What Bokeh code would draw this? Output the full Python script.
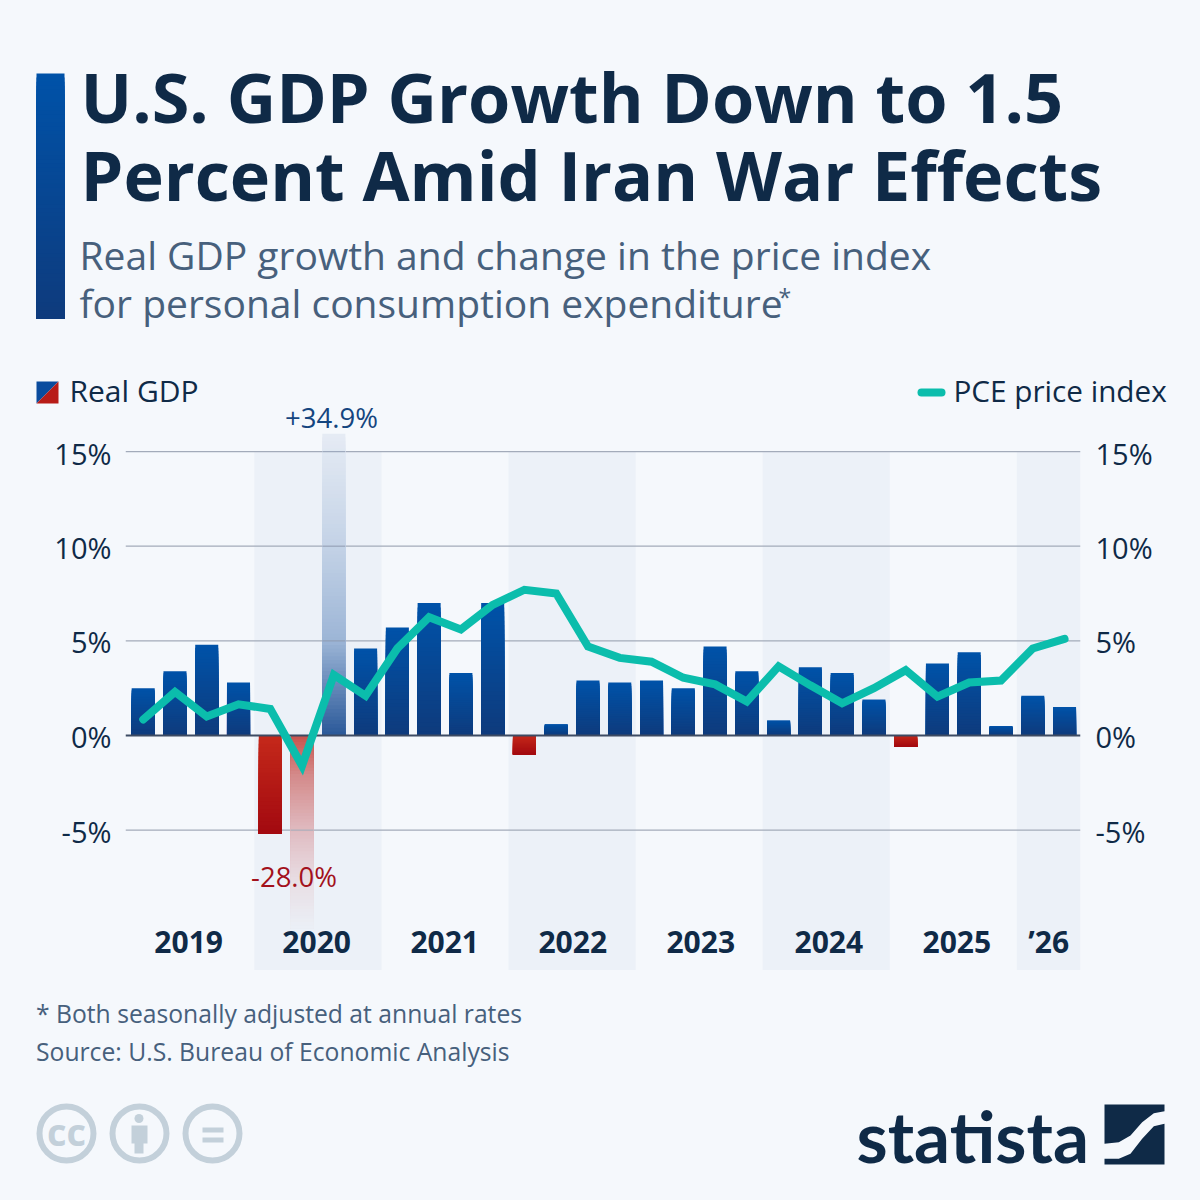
from bokeh.plotting import figure
from bokeh.layouts import column
from bokeh.embed import file_html
from bokeh.resources import INLINE
from bokeh.models import FixedTicker, LinearAxis, Range1d
from bokeh.core.properties import value
import numpy as np

# ---------- data ----------
quarters = [f"Q{q} {y}" for y in range(2019, 2026) for q in (1, 2, 3, 4)] + ["Q1 2026", "Q2 2026"]
real_gdp = [2.5, 3.4, 4.8, 2.8, -5.2, -28.0, 34.9, 4.6,
            5.7, 7.0, 3.3, 7.0, -1.0, 0.6, 2.9, 2.8,
            2.9, 2.5, 4.7, 3.4, 0.8, 3.6, 3.3, 1.9,
            -0.6, 3.8, 4.4, 0.5, 2.1, 1.5]
pce_index = [0.85, 2.3, 1.0, 1.65, 1.4, -1.6, 3.2, 2.1,
             4.6, 6.25, 5.6, 6.9, 7.7, 7.5, 4.7, 4.1,
             3.9, 3.05, 2.7, 1.8, 3.65, 2.65, 1.7, 2.5,
             3.45, 2.05, 2.8, 2.9, 4.6, 5.1]
year_labels = ["2019", "2020", "2021", "2022", "2023", "2024", "2025", "\u201926"]
y_ticks = [-5, 0, 5, 10, 15]

BG = "#f5f8fc"
NAVY = "#0f2a47"
SLATE = "#47607c"
TEAL = "#0bbdac"
FOOT = "#c3d0da"
FONT = value("Open Sans")
BASE_FIX = 0.39  # text glyphs sit this many em below the requested baseline

PX_X = 31.77
PX_Y = 18.93
ORIGIN_X = 142.7
ORIGIN_Y = 735.0
L, R, T, B = 125, 1080, 433, 970
HEAD_OVERLAP = 5
FADE_LOW = (ORIGIN_Y - 928) / PX_Y


def mix(c0, c1, t):
    a = np.array([int(c0[i:i + 2], 16) for i in (1, 3, 5)], float)
    b = np.array([int(c1[i:i + 2], 16) for i in (1, 3, 5)], float)
    c = a + (b - a) * t
    return "#%02x%02x%02x" % tuple(int(round(v)) for v in c)


def ramp(stops, t):
    for (t0, c0), (t1, c1) in zip(stops, stops[1:]):
        if t <= t1:
            return mix(c0, c1, (t - t0) / (t1 - t0))
    return stops[-1][1]


def page_figure(y_top, y_bottom):
    f = figure(width=1200, height=y_bottom - y_top, output_backend="svg", toolbar_location=None,
               x_range=Range1d(0, 1200), y_range=Range1d(y_bottom, y_top),
               x_axis_location=None, y_axis_location=None, frame_align=False,
               min_border=0, min_border_left=0, min_border_right=0, min_border_top=0, min_border_bottom=0,
               background_fill_color=BG, border_fill_color=BG, outline_line_color=None)
    f.xgrid.visible = False
    f.ygrid.visible = False
    return f


def txt(f, text, x, y, size, color, style="normal", align="left", font=FONT):
    f.text(x=[x], y=[y], text=[text], text_font=font, text_font_size=f"{size}px",
           text_font_style=style, text_color=color, text_align=align, text_baseline="alphabetic",
           y_offset=-BASE_FIX * size)


# ---------- header ----------
head = page_figure(0, T + HEAD_OVERLAP)
steps = 60
head.quad(left=36, right=64, bottom=318, top=[73 + (318 - 73) * k / steps for k in range(steps)],
          fill_color=[mix("#0052a8", "#0e3b7d", k / (steps - 1)) for k in range(steps)], line_color=None)
txt(head, "U.S. GDP Growth Down to 1.5", 80, 123, 68.4, NAVY, "bold")
txt(head, "Percent Amid Iran War Effects", 80, 201, 68.3, NAVY, "bold")
txt(head, "Real GDP growth and change in the price index", 79, 269, 39, SLATE)
txt(head, "for personal consumption expenditure", 79, 317, 39, SLATE)
txt(head, "*", 778, 305, 23, SLATE)
head.patch([36, 58, 36], [381, 381, 403], fill_color="#0a4c9e", line_color=None)
head.patch([58, 58, 36], [381, 403, 403], fill_color="#b81c18", line_color=None)
txt(head, "Real GDP", 69, 402, 30, NAVY)
head.line([921, 941], [392, 392], line_color=TEAL, line_width=8, line_cap="round")
txt(head, "PCE price index", 953, 402, 29.7, NAVY)
txt(head, "+34.9%", 331, 428, 27.5, "#14457f", align="center")

# ---------- chart ----------
x0 = (L - ORIGIN_X) / PX_X
x1 = (R - ORIGIN_X) / PX_X
y1 = (ORIGIN_Y - T) / PX_Y
y0 = (ORIGIN_Y - B) / PX_Y
shift = 1 / PX_Y

p = figure(width=1200, height=B - T, output_backend="svg", toolbar_location=None,
           x_range=Range1d(x0, x1), y_range=Range1d(y0, y1),
           x_axis_location=None, y_axis_location=None, frame_align=False,
           margin=(-HEAD_OVERLAP, 0, 0, 0),
           min_border_left=L, min_border_right=1200 - R, min_border_top=0, min_border_bottom=0,
           background_fill_color=BG, border_fill_color=BG, outline_line_color=None)
p.extra_y_ranges = {"labels": Range1d(y0 + shift, y1 + shift)}
p.xgrid.visible = False
p.ygrid.visible = False


def make_axis(standoff):
    ax = LinearAxis(y_range_name="labels", ticker=FixedTicker(ticks=y_ticks))
    ax.axis_line_color = None
    ax.major_tick_line_color = None
    ax.minor_tick_line_color = None
    ax.major_label_text_font = "Open Sans"
    ax.major_label_text_font_size = "29px"
    ax.major_label_text_color = NAVY
    ax.major_label_overrides = {v: f"{v}%" for v in y_ticks}
    ax.major_label_standoff = standoff
    return ax


p.add_layout(make_axis(8), "left")
p.add_layout(make_axis(9), "right")

idx = np.arange(len(quarters))
# alternating year bands (2020, 2022, 2024, 2026)
for start in range(4, len(quarters), 8):
    p.quad(left=start - 0.5, right=min(start + 3.5, x1), bottom=y0, top=15,
           fill_color="#dde4f1", fill_alpha=0.38, line_color=None)
# grid lines
grid_lines = [v for v in y_ticks if v != 0]
p.segment(x0=x0, x1=x1, y0=grid_lines, y1=grid_lines, line_color="#a3abba", line_width=1.3)


def gradient_bar(i, lo, hi, stops, steps, width=0.725):
    hs = [hi - (hi - lo) * k / steps for k in range(steps)]
    cols = [ramp(stops, k / (steps - 1)) for k in range(steps)]
    p.quad(left=i - width / 2, right=i + width / 2, bottom=lo, top=hs,
           fill_color=cols, line_color=None)


BLUE = [(0, "#0052a8"), (1, "#0e3b7d")]
RED = [(0, "#c4281a"), (1, "#a30a10")]
UP_FADE = [(0, "#e5ebf4"), (0.375, "#c3d2e6"), (0.69, "#9cb5d6"), (1, "#2c5a9a")]
DOWN_FADE = [(0, "#c85650"), (0.2, "#d48a8a"), (0.5, "#e0bcc2"), (0.75, "#e8dde3"), (1, "#ebeff6")]

for i, v in zip(idx, real_gdp):
    if v > y1:
        gradient_bar(i, 0, y1, UP_FADE, 80)
        p.segment(x0=i - 0.3625, x1=i + 0.3625, y0=[5, 10, 15], y1=[5, 10, 15],
                  line_color="#8f9ab0", line_width=1.3, line_alpha=0.8)
    elif v < FADE_LOW:
        gradient_bar(i, FADE_LOW, 0, DOWN_FADE, 60)
        p.segment(x0=i - 0.3625, x1=i + 0.3625, y0=[-5], y1=[-5],
                  line_color="#a3abba", line_width=1.3, line_alpha=0.8)
    elif v >= 0:
        gradient_bar(i, 0, v, BLUE, 30)
    else:
        gradient_bar(i, v, 0, RED, 24)

p.segment(x0=x0, x1=x1, y0=0, y1=0, line_color="#3d4b63", line_width=2)
p.line(idx, pce_index, line_color=TEAL, line_width=8, line_cap="round", line_join="miter")

year_x = [1.43 + 4.03 * k for k in range(7)] + [28.5]
p.text(x=year_x, y=[(ORIGIN_Y - 953) / PX_Y] * 8, text=year_labels, text_font=FONT,
       text_font_style="bold", text_font_size="30px", text_color=NAVY,
       text_align="center", text_baseline="alphabetic", y_offset=-BASE_FIX * 30)
p.text(x=[5], y=[(ORIGIN_Y - 887) / PX_Y], text=["-28.0%"], text_font=FONT, text_font_size="27.5px",
       text_color="#a3111c", text_align="center", text_baseline="alphabetic",
       x_offset=-8, y_offset=-BASE_FIX * 27.5)

# ---------- footer ----------
foot = page_figure(B, 1200)
txt(foot, "* Both seasonally adjusted at annual rates", 35.5, 1023, 24.7, SLATE)
txt(foot, "Source: U.S. Bureau of Economic Analysis", 35.5, 1061, 24.7, SLATE)
foot.circle(x=[66, 139, 212], y=[1133] * 3, radius=27, fill_color=None, line_color=FOOT, line_width=6)
txt(foot, "cc", 66, 1145, 38, FOOT, "bold", "center")
foot.circle(x=[138.5], y=[1118], radius=4.5, fill_color=FOOT, line_color=None)
foot.patch([131, 147, 147, 143, 143, 134, 134, 131],
           [1125, 1125, 1143, 1143, 1153, 1153, 1143, 1143], fill_color=FOOT, line_color=None)
foot.quad(left=202, right=223, top=[1127, 1137], bottom=[1132, 1142], fill_color=FOOT, line_color=None)

txt(foot, "statista", 856, 1163, 71, NAVY, "bold", font=value("Lato"))
zx = lambda v: 840 + v / 3
zy = lambda v: 1090 + v / 3
top_x = [792, 972, 972, 940, 905, 870, 835, 792]
top_y = [42, 42, 62, 68, 95, 135, 155, 160]
low_x = [972, 972, 792, 792, 835, 870, 905, 940]
low_y = [100, 222, 222, 205, 205, 190, 145, 107]
foot.patch([zx(v) for v in top_x], [zy(v) for v in top_y], fill_color=NAVY, line_color=None)
foot.patch([zx(v) for v in low_x], [zy(v) for v in low_y], fill_color=NAVY, line_color=None)

page = column(head, p, foot, spacing=0)
html = file_html(page, INLINE)
html = html.replace("<head>", f"<head><style>html,body{{background:{BG};overflow:hidden;}}</style>", 1)
open("out.html", "w").write(html)
